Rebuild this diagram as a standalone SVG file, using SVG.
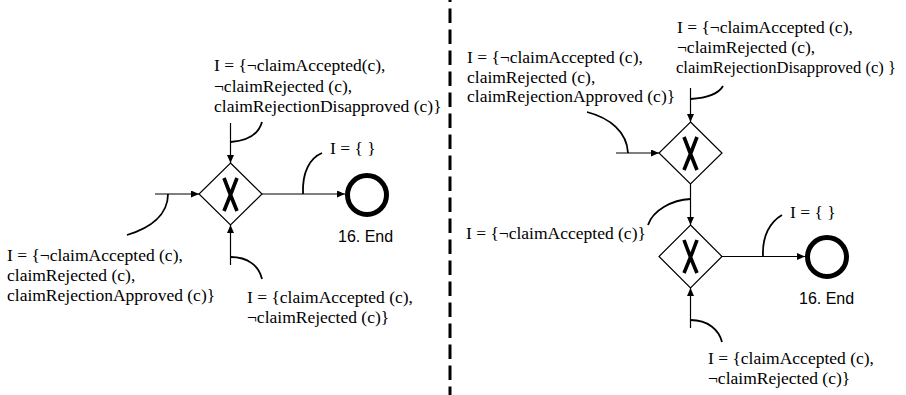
<svg xmlns="http://www.w3.org/2000/svg" width="906" height="395" viewBox="0 0 906 395">
<style>
  .lbl { font-family: "Liberation Serif", "Times New Roman", serif; font-size: 17.5px; fill: #000; }
  .end { font-family: "Liberation Sans", Arial, sans-serif; font-size: 16px; fill: #000; }
  .gw { fill: #fff; stroke: #000; stroke-width: 1.2; }
  .xm { fill: none; stroke: #000; stroke-width: 3.6; stroke-linecap: butt; }
  .ev { fill: #fff; stroke: #000; stroke-width: 5; }
  .flow { fill: none; stroke: #000; stroke-width: 1.2; marker-end: url(#arr); }
  .ann { fill: none; stroke: #000; stroke-width: 1.8; }
  .div { stroke: #000; stroke-width: 3; stroke-dasharray: 14.5 6.5; stroke-dashoffset: 12.5; }
</style>
<defs>
  <marker id="arr" markerUnits="userSpaceOnUse" markerWidth="9" markerHeight="8" refX="8" refY="3.5" orient="auto">
    <path d="M0,0 L8,3.5 L0,7 z" fill="#000"/>
  </marker>
</defs>
<rect width="906" height="395" fill="#fff"/>
<line class="div" x1="450" y1="0" x2="450" y2="395"/>

<g id="connectors">
  <!-- left diagram -->
  <line class="flow" x1="155" y1="194" x2="199" y2="194"/>
  <line class="flow" x1="230.5" y1="123" x2="230.5" y2="163"/>
  <line class="flow" x1="230.5" y1="265" x2="230.5" y2="225"/>
  <line class="flow" x1="262" y1="194" x2="345" y2="194"/>
  <path class="ann" d="M168,194 C168,215 150,228 127,235"/>
  <path class="ann" d="M230.5,142 C245,141 258,136 262,122"/>
  <path class="ann" d="M230.5,257 C248,257 259,266 262,279"/>
  <path class="ann" d="M303,194 C302,172 310,158 322,153"/>
  <!-- right diagram -->
  <line class="flow" x1="616" y1="153" x2="659" y2="153"/>
  <line class="flow" x1="690.5" y1="88" x2="690.5" y2="122"/>
  <line class="flow" x1="690.5" y1="184" x2="690.5" y2="225"/>
  <line class="flow" x1="722" y1="256.5" x2="805" y2="256.5"/>
  <line class="flow" x1="690.5" y1="328" x2="690.5" y2="288"/>
  <path class="ann" d="M628,153 C627,132 610,118 587,112"/>
  <path class="ann" d="M690.5,99 C706,98 718,95 723,86"/>
  <path class="ann" d="M690.5,199 C672,200 653,210 648,225"/>
  <path class="ann" d="M763,256.5 C762,236 770,222 782,215"/>
  <path class="ann" d="M690.5,320 C708,320 719,330 722,342"/>
</g>

<g id="gw-left">
  <polygon class="gw" points="230.5,163 262,194 230.5,225 199,194"/>
  <path class="xm" d="M224,178 Q230,194 237,211 M237,178 Q231,194 224,211"/>
</g>
<g id="end-left">
  <circle class="ev" cx="367" cy="195" r="19.5"/>
  <text class="end" x="338" y="242">16. End</text>
</g>
<g id="labels-left">
  <text class="lbl" x="214" y="71">I = {¬claimAccepted(c),</text>
  <text class="lbl" x="214" y="91.5">¬claimRejected (c),</text>
  <text class="lbl" x="214" y="112">claimRejectionDisapproved (c)}</text>
  <text class="lbl" x="330" y="154">I = { }</text>
  <text class="lbl" x="7" y="261">I = {¬claimAccepted (c),</text>
  <text class="lbl" x="7" y="281">claimRejected (c),</text>
  <text class="lbl" x="7" y="301">claimRejectionApproved (c)}</text>
  <text class="lbl" x="247" y="303">I = {claimAccepted (c),</text>
  <text class="lbl" x="247" y="323">¬claimRejected (c)}</text>
</g>

<g id="gw-right-1">
  <polygon class="gw" points="690.5,122 722,153 690.5,184 659,153"/>
  <path class="xm" d="M684,137 Q690,153 697,170 M697,137 Q691,153 684,170"/>
</g>
<g id="gw-right-2">
  <polygon class="gw" points="690.5,225 722,256.5 690.5,288 659,256.5"/>
  <path class="xm" d="M684,240 Q690,256.5 697,273 M697,240 Q691,256.5 684,273"/>
</g>
<g id="end-right">
  <circle class="ev" cx="827" cy="257" r="19.5"/>
  <text class="end" x="799" y="304">16. End</text>
</g>
<g id="labels-right">
  <text class="lbl" x="677" y="33">I = {¬claimAccepted (c),</text>
  <text class="lbl" x="677" y="53">¬claimRejected (c),</text>
  <text class="lbl" x="676" y="72.5" style="font-size:16.6px">claimRejectionDisapproved (c) }</text>
  <text class="lbl" x="467" y="63">I = {¬claimAccepted (c),</text>
  <text class="lbl" x="467" y="82.5">claimRejected (c),</text>
  <text class="lbl" x="467" y="102">claimRejectionApproved (c)}</text>
  <text class="lbl" x="466" y="239">I = {¬claimAccepted (c)}</text>
  <text class="lbl" x="790" y="218">I = { }</text>
  <text class="lbl" x="708" y="364">I = {claimAccepted (c),</text>
  <text class="lbl" x="708" y="384">¬claimRejected (c)}</text>
</g>
</svg>
